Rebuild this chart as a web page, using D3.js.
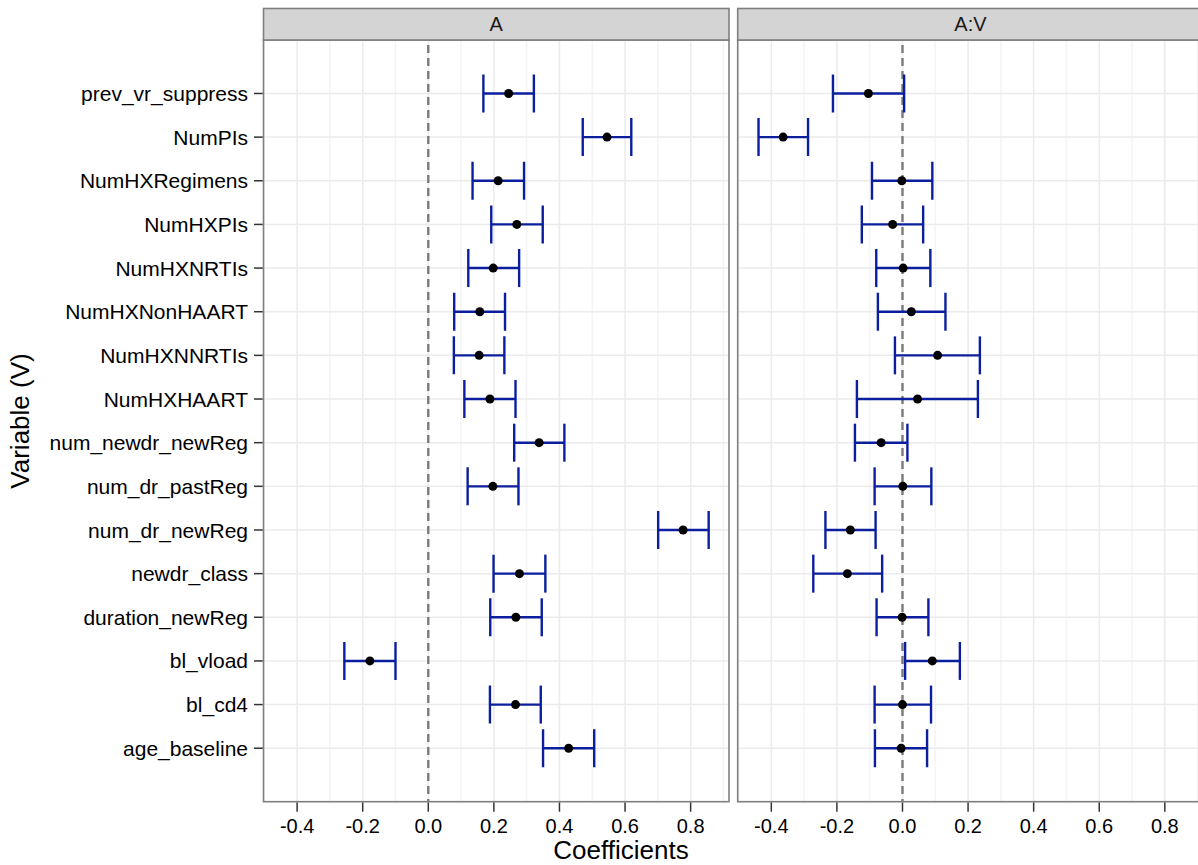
<!DOCTYPE html>
<html>
<head>
<meta charset="utf-8">
<script src="https://cdn.jsdelivr.net/npm/d3@7"></script>
<style>
  html, body { margin: 0; padding: 0; background: #fff; }
  svg { display: block; font-family: "Liberation Sans", Arial, sans-serif; }
</style>
</head>
<body>
<svg id="chart" width="1198" height="865"></svg>
<script>
// ---- data ----
const variables = ["prev_vr_suppress","NumPIs","NumHXRegimens","NumHXPIs","NumHXNRTIs","NumHXNonHAART",
  "NumHXNNRTIs","NumHXHAART","num_newdr_newReg","num_dr_pastReg","num_dr_newReg","newdr_class",
  "duration_newReg","bl_vload","bl_cd4","age_baseline"];
const facets = ["A", "A:V"];

const estA  = [0.245, 0.545, 0.213, 0.270, 0.198, 0.157, 0.155, 0.188, 0.338, 0.197, 0.777, 0.278, 0.267, -0.178, 0.266, 0.428];
const lowA  = [0.168, 0.471, 0.135, 0.192, 0.122, 0.079, 0.078, 0.110, 0.262, 0.120, 0.701, 0.199, 0.189, -0.256, 0.188, 0.350];
const highA = [0.322, 0.619, 0.292, 0.349, 0.277, 0.234, 0.232, 0.266, 0.415, 0.275, 0.855, 0.357, 0.346, -0.100, 0.343, 0.506];

const estAV  = [-0.104, -0.364, -0.002, -0.030, 0.002, 0.027, 0.107, 0.046, -0.065, 0.001, -0.159, -0.168, -0.001, 0.091, 0.000, -0.004];
const lowAV  = [-0.212, -0.439, -0.093, -0.124, -0.080, -0.075, -0.023, -0.139, -0.145, -0.085, -0.235, -0.272, -0.079, 0.008, -0.085, -0.084];
const highAV = [0.005, -0.288, 0.091, 0.063, 0.085, 0.131, 0.236, 0.230, 0.015, 0.088, -0.082, -0.062, 0.079, 0.175, 0.087, 0.075];

const xTicks = [-0.4, -0.2, 0.0, 0.2, 0.4, 0.6, 0.8];
const xTickLabels = ["-0.4", "-0.2", "0.0", "0.2", "0.4", "0.6", "0.8"];
const xMinor = [-0.5, -0.3, -0.1, 0.1, 0.3, 0.5, 0.7, 0.9];

const panelData = {
  "A":   variables.map((v, i) => ({ v, est: estA[i],  lo: lowA[i],  hi: highA[i] })),
  "A:V": variables.map((v, i) => ({ v, est: estAV[i], lo: lowAV[i], hi: highAV[i] }))
};

// ---- layout ----
const svg = d3.select("#chart");
const panelLefts = [263.5, 737.7];
const panelW = 465.5;
const stripTop = 8.5, panelTop = 40, panelBottom = 801.7;
const barColor = "#0b1f9e";
const borderColor = "#7f7f7f";

const x = d3.scaleLinear().domain([-0.5025, 0.917]).range([0, panelW]);
const y = d3.scalePoint().domain(variables).range([panelTop, panelBottom]).padding(1.225);
const capHalf = 19;

facets.forEach((f, fi) => {
  const g = svg.append("g").attr("transform", `translate(${panelLefts[fi]},0)`);
  const clipId = "clip" + fi;
  g.append("clipPath").attr("id", clipId).append("rect")
    .attr("x", 0).attr("y", panelTop).attr("width", panelW).attr("height", panelBottom - panelTop);

  g.append("rect").attr("x", 0).attr("y", panelTop).attr("width", panelW).attr("height", panelBottom - panelTop)
    .attr("fill", "#fff");

  const grid = g.append("g").attr("clip-path", `url(#${clipId})`);
  grid.selectAll("line.minor").data(xMinor).join("line")
    .attr("x1", d => x(d)).attr("x2", d => x(d))
    .attr("y1", panelTop).attr("y2", panelBottom)
    .attr("stroke", "#f4f4f4").attr("stroke-width", 1.5);
  grid.selectAll("line.majx").data(xTicks).join("line")
    .attr("x1", d => x(d)).attr("x2", d => x(d))
    .attr("y1", panelTop).attr("y2", panelBottom)
    .attr("stroke", "#ebebeb").attr("stroke-width", 1.5);
  grid.selectAll("line.majy").data(variables).join("line")
    .attr("x1", 0).attr("x2", panelW)
    .attr("y1", d => y(d)).attr("y2", d => y(d))
    .attr("stroke", "#ebebeb").attr("stroke-width", 1.5);

  grid.append("line")
    .attr("x1", x(0)).attr("x2", x(0))
    .attr("y1", panelTop + 5).attr("y2", panelBottom)
    .attr("stroke", "#7a7a7a").attr("stroke-width", 2.4)
    .attr("stroke-dasharray", "8,5");

  const data = panelData[f];
  const marks = g.append("g").attr("clip-path", `url(#${clipId})`);
  marks.selectAll("line.hbar").data(data).join("line")
    .attr("x1", d => x(d.lo)).attr("x2", d => x(d.hi))
    .attr("y1", d => y(d.v)).attr("y2", d => y(d.v))
    .attr("stroke", barColor).attr("stroke-width", 2.4);
  ["lo", "hi"].forEach(k => {
    marks.selectAll("line.cap" + k).data(data).join("line")
      .attr("x1", d => x(d[k])).attr("x2", d => x(d[k]))
      .attr("y1", d => y(d.v) - capHalf).attr("y2", d => y(d.v) + capHalf)
      .attr("stroke", barColor).attr("stroke-width", 2.4);
  });
  marks.selectAll("circle").data(data).join("circle")
    .attr("cx", d => x(d.est)).attr("cy", d => y(d.v)).attr("r", 4.5)
    .attr("fill", "#000");

  g.append("rect").attr("x", 0).attr("y", panelTop).attr("width", panelW).attr("height", panelBottom - panelTop)
    .attr("fill", "none").attr("stroke", borderColor).attr("stroke-width", 1.6);

  g.append("rect").attr("x", 0).attr("y", stripTop).attr("width", panelW).attr("height", panelTop - stripTop)
    .attr("fill", "#d4d4d4").attr("stroke", borderColor).attr("stroke-width", 1.6);
  g.append("text").attr("x", panelW / 2).attr("y", 31)
    .attr("text-anchor", "middle").attr("font-size", 20).attr("fill", "#1a1a1a").text(f);

  const xa = g.append("g").attr("transform", `translate(0,${panelBottom})`);
  xa.selectAll("line").data(xTicks).join("line")
    .attr("x1", d => x(d)).attr("x2", d => x(d)).attr("y1", 0.8).attr("y2", 10)
    .attr("stroke", "#333").attr("stroke-width", 1.5);
  xa.selectAll("text").data(xTicks).join("text")
    .attr("x", d => x(d)).attr("y", 31).attr("text-anchor", "middle")
    .attr("font-size", 20).attr("fill", "#000")
    .text((d, i) => xTickLabels[i]);
});

const ya = svg.append("g").attr("transform", `translate(${panelLefts[0]},0)`);
ya.selectAll("line").data(variables).join("line")
  .attr("x1", -9.5).attr("x2", -0.8).attr("y1", d => y(d)).attr("y2", d => y(d))
  .attr("stroke", "#333").attr("stroke-width", 1.5);
ya.selectAll("text").data(variables).join("text")
  .attr("x", -15.5).attr("y", d => y(d)).attr("dy", "0.36em")
  .attr("text-anchor", "end").attr("font-size", 21).attr("fill", "#000")
  .text(d => d);

svg.append("text").attr("x", 621).attr("y", 859).attr("text-anchor", "middle")
  .attr("font-size", 26).attr("fill", "#000").text("Coefficients");
svg.append("text").attr("transform", "translate(29,421) rotate(-90)").attr("text-anchor", "middle")
  .attr("font-size", 26).attr("fill", "#000").text("Variable (V)");
</script>
</body>
</html>
